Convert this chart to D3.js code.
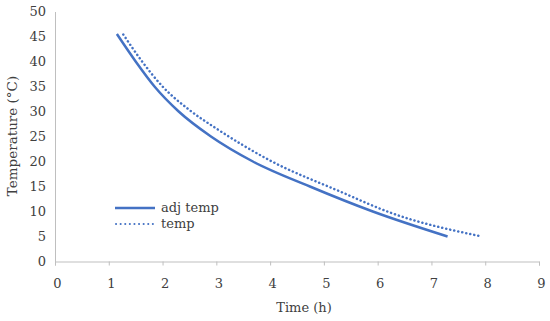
<!DOCTYPE html>
<html>
<head>
<meta charset="utf-8">
<script src="https://cdn.jsdelivr.net/npm/d3@7"></script>
<style>
  body { margin: 0; background: #fff; }
</style>
</head>
<body>
<div id="chart"></div>
<script>
var adjTime = [1.15, 1.5, 1.85, 2.3, 2.9, 3.68, 4.74, 5.91, 7.3]
var adjTemp = [45.5, 40, 35, 30, 25, 20, 15, 10, 5.0]
var tempTime = [1.27, 1.62, 2, 2.5, 3, 4, 5.3, 6.23, 7.94]
var tempVals = [45.4, 40, 35, 30.3, 26.6, 20.2, 14.0, 9.8, 5.0]
var xTicks = [0, 1, 2, 3, 4, 5, 6, 7, 8, 9]
var yTicks = [0, 5, 10, 15, 20, 25, 30, 35, 40, 45, 50]

var blue = "#4472C4"
var font = "DejaVu Serif, serif"

var svg = d3.select("#chart")
  .append("svg")
  .attr("width", 550)
  .attr("height", 321)

var x = d3.scaleLinear().domain([0, 9]).range([55, 539])
var y = d3.scaleLinear().domain([0, 50]).range([261.5, 11.5])

// x axis
var xAxis = svg.append("g")
  .attr("transform", "translate(0,261.5)")
  .call(d3.axisBottom(x).tickValues(xTicks).tickSize(4).tickPadding(13).tickFormat(d3.format("d")))
xAxis.select(".domain").attr("stroke", "#bfbfbf")
xAxis.selectAll(".tick line").attr("stroke", "#bfbfbf")
xAxis.selectAll(".tick text")
  .attr("font-family", font)
  .attr("font-size", 13)
  .attr("fill", "#404040")
  .attr("dx", 2)

// y axis, no tick marks
var yAxis = svg.append("g")
  .attr("transform", "translate(55,0)")
  .call(d3.axisLeft(y).tickValues(yTicks).tickSize(0).tickPadding(9).tickFormat(d3.format("d")))
yAxis.select(".domain").attr("stroke", "#bfbfbf")
yAxis.selectAll(".tick text")
  .attr("font-family", font)
  .attr("font-size", 13)
  .attr("fill", "#404040")

// axis titles
svg.append("text")
  .attr("x", 304)
  .attr("y", 312)
  .attr("text-anchor", "middle")
  .attr("font-family", font)
  .attr("font-size", 13)
  .attr("fill", "#404040")
  .text("Time (h)")

svg.append("text")
  .attr("transform", "translate(17,136) rotate(-90)")
  .attr("text-anchor", "middle")
  .attr("font-family", font)
  .attr("font-size", 13.5)
  .attr("fill", "#404040")
  .text("Temperature (°C)")

var line = d3.line()
  .x(function(d) { return x(d[0]) })
  .y(function(d) { return y(d[1]) })
  .curve(d3.curveMonotoneX)

svg.append("path")
  .datum(d3.zip(tempTime, tempVals))
  .attr("d", line)
  .attr("fill", "none")
  .attr("stroke", blue)
  .attr("stroke-width", 2.5)
  .attr("stroke-linecap", "round")
  .attr("stroke-dasharray", "0.1,4")

svg.append("path")
  .datum(d3.zip(adjTime, adjTemp))
  .attr("d", line)
  .attr("fill", "none")
  .attr("stroke", blue)
  .attr("stroke-width", 2.5)

// legend
svg.append("line")
  .attr("x1", 115).attr("y1", 208)
  .attr("x2", 155).attr("y2", 208)
  .attr("stroke", blue)
  .attr("stroke-width", 2.5)
svg.append("text")
  .attr("x", 161).attr("y", 212)
  .attr("font-family", font)
  .attr("font-size", 13)
  .attr("fill", "#404040")
  .text("adj temp")

svg.append("line")
  .attr("x1", 116).attr("y1", 224)
  .attr("x2", 154).attr("y2", 224)
  .attr("stroke", blue)
  .attr("stroke-width", 2)
  .attr("stroke-linecap", "round")
  .attr("stroke-dasharray", "0.1,4.5")
svg.append("text")
  .attr("x", 161).attr("y", 228)
  .attr("font-family", font)
  .attr("font-size", 13)
  .attr("fill", "#404040")
  .text("temp")
</script>
</body>
</html>
